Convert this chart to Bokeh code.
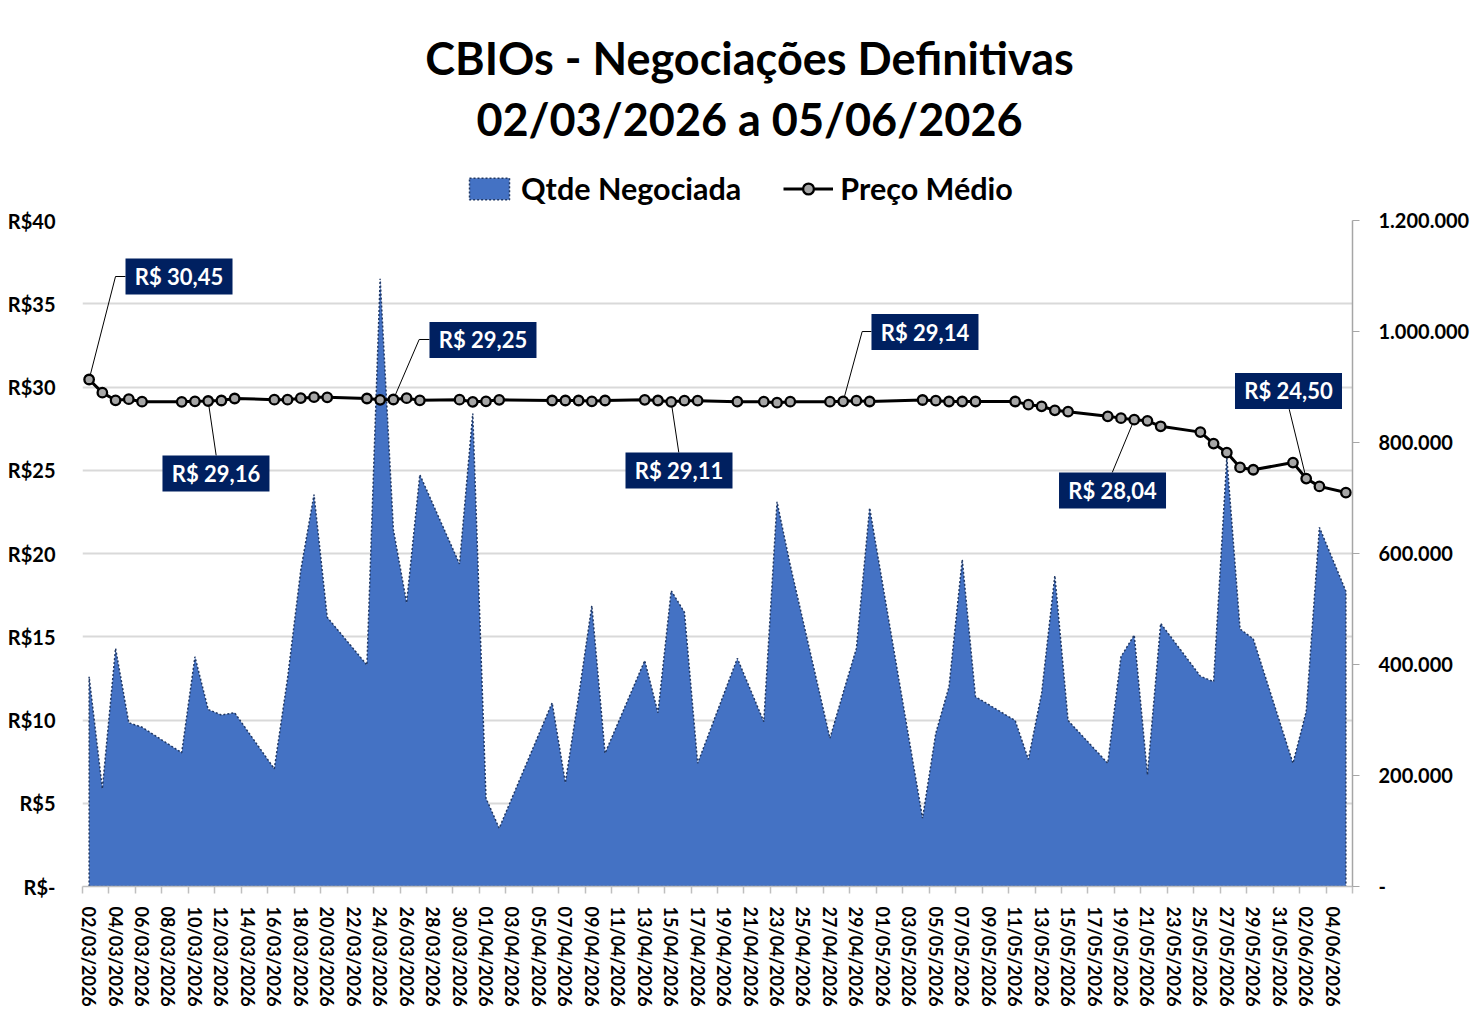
import pandas as pd
from bokeh.plotting import figure
from bokeh.layouts import column
from bokeh.models import Range1d, LinearAxis, FixedTicker, Label, Legend, LegendItem
from bokeh.embed import file_html
from bokeh.resources import INLINE
from bokeh.core.properties import value

# ---------------- data ----------------
dates = [
    "02/03/2026", "03/03/2026", "04/03/2026", "05/03/2026", "06/03/2026",
    "09/03/2026", "10/03/2026", "11/03/2026", "12/03/2026", "13/03/2026",
    "16/03/2026", "17/03/2026", "18/03/2026", "19/03/2026", "20/03/2026",
    "23/03/2026", "24/03/2026", "25/03/2026", "26/03/2026", "27/03/2026",
    "30/03/2026", "31/03/2026", "01/04/2026", "02/04/2026",
    "06/04/2026", "07/04/2026", "08/04/2026", "09/04/2026", "10/04/2026",
    "13/04/2026", "14/04/2026", "15/04/2026", "16/04/2026", "17/04/2026",
    "20/04/2026", "22/04/2026", "23/04/2026", "24/04/2026",
    "27/04/2026", "28/04/2026", "29/04/2026", "30/04/2026",
    "04/05/2026", "05/05/2026", "06/05/2026", "07/05/2026", "08/05/2026",
    "11/05/2026", "12/05/2026", "13/05/2026", "14/05/2026", "15/05/2026",
    "18/05/2026", "19/05/2026", "20/05/2026", "21/05/2026", "22/05/2026",
    "25/05/2026", "26/05/2026", "27/05/2026", "28/05/2026", "29/05/2026",
    "01/06/2026", "02/06/2026", "03/06/2026", "05/06/2026",
]
qtde_negociada = [
    378000, 176000, 429000, 295000, 287000,
    241000, 414000, 319000, 309000, 313000,
    212000, 375000, 570000, 706000, 485000,
    399000, 1095000, 643000, 511000, 742000,
    581000, 852000, 159000, 105000,
    331000, 187000, 342000, 506000, 240000,
    407000, 313000, 533000, 494000, 222000,
    411000, 297000, 693000, 579000,
    267000, 349000, 429000, 682000,
    123000, 276000, 360000, 589000, 342000,
    299000, 229000, 348000, 560000, 299000,
    222000, 414000, 453000, 201000, 474000,
    379000, 369000, 772000, 464000, 446000,
    222000, 315000, 647000, 532000,
]
preco_medio = [
    30.45, 29.66, 29.20, 29.27, 29.12,
    29.11, 29.14, 29.16, 29.19, 29.31,
    29.24, 29.24, 29.33, 29.39, 29.38,
    29.31, 29.23, 29.25, 29.33, 29.20,
    29.24, 29.11, 29.14, 29.23,
    29.19, 29.19, 29.19, 29.14, 29.19,
    29.23, 29.19, 29.11, 29.18, 29.18,
    29.12, 29.12, 29.06, 29.12,
    29.12, 29.14, 29.18, 29.13,
    29.22, 29.18, 29.13, 29.13, 29.13,
    29.13, 28.94, 28.84, 28.60, 28.52,
    28.24, 28.13, 28.04, 27.97, 27.64,
    27.29, 26.60, 26.06, 25.17, 25.03,
    25.46, 24.50, 24.03, 23.66,
]
left_ticks = [0, 5, 10, 15, 20, 25, 30, 35, 40]
left_tick_labels = ["R$-", "R$5", "R$10", "R$15", "R$20", "R$25", "R$30", "R$35", "R$40"]
right_ticks = [0, 200000, 400000, 600000, 800000, 1000000, 1200000]
right_tick_labels = ["-", "200.000", "400.000", "600.000", "800.000", "1.000.000", "1.200.000"]

title_lines = ["CBIOs - Negociações Definitivas", "02/03/2026 a 05/06/2026"]
series_names = ["Qtde Negociada", "Preço Médio"]

# callouts: date, text, box-centre offset (px), leader path offsets (px)
callouts = [
    ("02/03/2026", "R$ 30,45", (89.9, 103), [(0, 0), (26.4, 103), (36.4, 103)]),
    ("11/03/2026", "R$ 29,16", (7.8, -72.5), [(0, 0), (8, -54.5)]),
    ("25/03/2026", "R$ 29,25", (89.6, 59.5), [(0, 0), (25.8, 60), (36.1, 60)]),
    ("15/04/2026", "R$ 29,11", (7.8, -68.7), [(0, 0), (7.6, -50.7)]),
    ("28/04/2026", "R$ 29,14", (81.8, 69.3), [(0, 0), (19, 69.8), (28.3, 69.8)]),
    ("20/05/2026", "R$ 28,04", (-21.7, -70.9), [(0, 0), (-22, -52.9)]),
    ("02/06/2026", "R$ 24,50", (-17.7, 87.6), [(0, 0), (-17, 69.4)]),
]

# ---------------- geometry ----------------
W, H = 1480, 1022
TOP_H = 208
FL, FR, FT, FB = 82, 128, 12, 136
H2 = H - TOP_H
FW, FH = W - FL - FR, H2 - FT - FB

FONT = "Lato"
AREA_FILL = "#4472C4"
AREA_LINE = "#203864"
MARK_FILL = "#A6A6A6"

start = pd.Timestamp("2026-03-02")
end = pd.Timestamp("2026-06-05")
xs = [(pd.to_datetime(d, format="%d/%m/%Y") - start).days for d in dates]
ndays = (end - start).days + 1
xmin, xmax = -0.5, ndays - 0.5
px_x = FW / (xmax - xmin)
px_y = FH / 40.0

# ---------------- header figure (title + legend) ----------------
# its frame is aligned with the chart frame below, so x is in page pixels
top = figure(width=W, height=TOP_H, x_range=Range1d(FL, W - FR), y_range=Range1d(TOP_H, 0),
             output_backend="svg", toolbar_location=None, x_axis_location=None, y_axis_location=None,
             min_border_left=FL, min_border_right=FR, min_border_top=0, min_border_bottom=0)
top.outline_line_color = None
top.xgrid.visible = False
top.ygrid.visible = False
for txt, yy in zip(title_lines, [57, 118]):
    top.add_layout(Label(x=749, y=yy, text=txt, text_align="center", text_baseline="middle",
                         text_font=FONT, text_font_style="bold", text_font_size="45px",
                         text_color="black"))
nan = float("nan")
lg_area = top.patch(x=[nan], y=[nan], fill_color=AREA_FILL, line_color=AREA_LINE, line_width=1.5, line_dash="2 2")
lg_line = top.line(x=[nan], y=[nan], line_color="black", line_width=3)
lg_pt = top.scatter(x=[nan], y=[nan], size=10, fill_color=MARK_FILL, line_color="black", line_width=2.3)
legend = Legend(items=[LegendItem(label=series_names[0], renderers=[lg_area]),
                       LegendItem(label=series_names[1], renderers=[lg_line, lg_pt])],
                orientation="horizontal", location=(464 - FL, 2),
                label_text_font=FONT, label_text_font_style="bold", label_text_font_size="30.5px",
                label_text_color="black", glyph_width=50, glyph_height=27, label_height=34,
                label_standoff=7, spacing=42, padding=0, margin=0,
                border_line_color=None, background_fill_alpha=0)
top.add_layout(legend)

# ---------------- main chart ----------------
p = figure(width=W, height=H2, x_range=Range1d(xmin, xmax), y_range=Range1d(0, 40),
           output_backend="svg", toolbar_location=None,
           min_border_left=FL, min_border_right=FR, min_border_top=FT, min_border_bottom=FB)
p.outline_line_color = None
p.extra_y_ranges = {"vol": Range1d(0, 1200000)}

p.xgrid.visible = False
p.ygrid.ticker = FixedTicker(ticks=left_ticks)
p.ygrid.grid_line_color = "#D9D9D9"
p.ygrid.grid_line_width = 2

ya = p.yaxis[0]
ya.ticker = FixedTicker(ticks=left_ticks)
ya.major_label_overrides = {t: l for t, l in zip(left_ticks, left_tick_labels)}
ya.axis_line_color = None
ya.major_tick_line_color = None
ya.minor_tick_line_color = None
ya.major_label_standoff = 21
ya.major_label_text_font = FONT
ya.major_label_text_font_style = "bold"
ya.major_label_text_font_size = "20px"
ya.major_label_text_color = "black"

ra = LinearAxis(y_range_name="vol", ticker=FixedTicker(ticks=right_ticks))
ra.major_label_overrides = {t: l for t, l in zip(right_ticks, right_tick_labels)}
ra.axis_line_color = "#A6A6A6"
ra.axis_line_width = 1.5
ra.major_tick_line_color = "#A6A6A6"
ra.major_tick_in = 0
ra.major_tick_out = 7
ra.minor_tick_line_color = None
ra.major_label_standoff = 19
ra.major_label_text_font = FONT
ra.major_label_text_font_style = "bold"
ra.major_label_text_font_size = "20px"
ra.major_label_text_color = "black"
p.add_layout(ra, "right")

all_days = pd.date_range(start, end, freq="D")
label_pos = list(range(0, ndays, 2))
x_tick_labels = [all_days[i].strftime("%d/%m/%Y") for i in label_pos]
boundaries = [b - 0.5 for b in range(0, ndays + 1, 2)]
xa = p.xaxis[0]
xa.ticker = FixedTicker(ticks=label_pos, minor_ticks=boundaries)
xa.major_label_overrides = {t: l for t, l in zip(label_pos, x_tick_labels)}
xa.major_label_orientation = "vertical"
xa.axis_line_color = "#BFBFBF"
xa.axis_line_width = 1.5
xa.major_tick_line_color = None
xa.minor_tick_line_color = "#BFBFBF"
xa.minor_tick_line_width = 1.5
xa.minor_tick_in = 0
xa.minor_tick_out = 7
xa.major_label_standoff = 13
xa.major_label_text_font = FONT
xa.major_label_text_font_style = "bold"
xa.major_label_text_font_size = "18px"
xa.major_label_text_color = "black"

# area (Qtde Negociada)
p.patch(x=[xs[0]] + xs + [xs[-1]], y=[0] + qtde_negociada + [0], y_range_name="vol",
        fill_color=AREA_FILL, line_color=AREA_LINE, line_width=1.5, line_dash="2 2")

# leaders
cmap = {d: (x, v) for d, x, v in zip(dates, xs, preco_medio)}
lx, ly = [], []
for d, t, (bx, by), path in callouts:
    x0, y0 = cmap[d]
    lx.append([x0 + dx / px_x for dx, dy in path])
    ly.append([y0 + dy / px_y for dx, dy in path])
p.multi_line(xs=lx, ys=ly, line_color="black", line_width=1)

# price line
p.line(xs, preco_medio, line_color="black", line_width=3)
p.scatter(xs, preco_medio, size=9.5, fill_color=MARK_FILL, line_color="black", line_width=2.3)

# callout boxes
bxs = [cmap[d][0] + bx / px_x for d, t, (bx, by), path in callouts]
bys = [cmap[d][1] + by / px_y for d, t, (bx, by), path in callouts]
p.rect(x=bxs, y=bys, width=107, height=36, width_units="screen", height_units="screen",
       fill_color="#002060", line_color=None)
p.text(x=bxs, y=bys, text=[c[1] for c in callouts], text_align="center", text_baseline="middle",
       text_color="white", text_font=value(FONT), text_font_style="bold", text_font_size="22px")

layout = column(top, p, spacing=0)
open("out.html", "w").write(file_html(layout, INLINE))
